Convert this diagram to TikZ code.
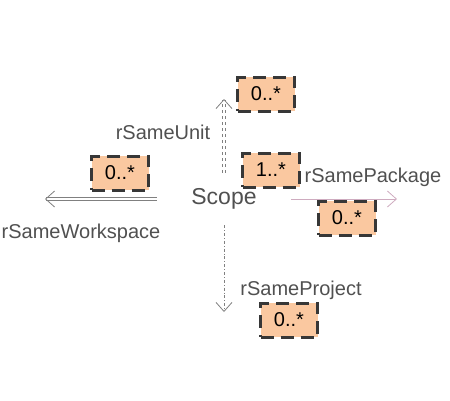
\documentclass[tikz,border=0pt]{standalone}
\usepackage{fontspec}
\setmainfont{Liberation Sans}
\usetikzlibrary{arrows.meta}
\definecolor{multfill}{RGB}{250,200,160}
\definecolor{multedge}{RGB}{55,55,55}
\definecolor{labtext}{RGB}{80,80,80}

\begin{document}
\begin{tikzpicture}[x=1pt,y=-1pt,
	mult/.style={fill=multfill,draw=multedge,line width=3pt,dash pattern=on 13pt off 7pt,
		minimum width=57pt,minimum height=34pt,inner sep=0pt,font=\fontsize{20}{22}\selectfont},
	lab/.style={text=labtext,font=\fontsize{20}{22}\selectfont,inner sep=0pt},
	rel/.style={draw=gray,line width=0.8pt},
	tip/.style={-{Straight Barb[length=9pt,width=16pt]}}]
	\useasboundingbox (0,0) rectangle (450,400);

	\node[lab,font=\fontsize{23}{25}\selectfont,minimum width=134pt,minimum height=52pt] (scope) at (224,199) {Scope};
	\coordinate (unitEnd) at (224,99);
	\coordinate (wsEnd) at (45,199);
	\coordinate (pkgEnd) at (397,199);
	\coordinate (projEnd) at (224,312);

	% relations
	\draw[rel,double,double distance=2pt,dashed,tip] (scope.north) -- (unitEnd);
	\draw[rel,double,double distance=2pt,tip] (scope.west) -- (wsEnd);
	\draw[rel,draw=gray!70!magenta!60,tip] (scope.east) -- (pkgEnd);
	\draw[rel,dash dot,tip] (scope.south) -- (projEnd);

	\node[lab] (unitLab) at (163,132) {rSameUnit};
	\node[lab] (wsLab) at (81,233) {rSameWorkspace};
	\node[lab] (pkgLab) at (373,177) {rSamePackage};
	\node[lab] (projLab) at (301,290) {rSameProject};

	\node[mult] (unitMult) at (266,94) {0..*};
	\node[mult] (srcMult) at (271,170) {1..*};
	\node[mult] (wsMult) at (120,173) {0..*};
	\node[mult] (pkgMult) at (347,218) {0..*};
	\node[mult] (projMult) at (289,320) {0..*};
\end{tikzpicture}
\end{document}
